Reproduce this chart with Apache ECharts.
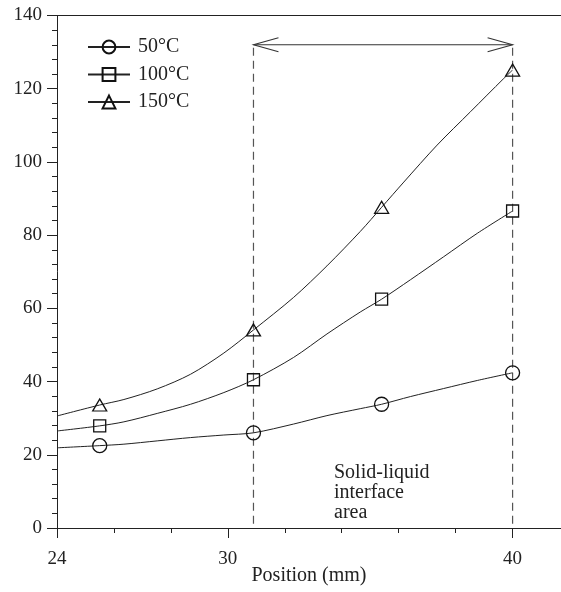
<!DOCTYPE html>
<html>
<head>
<meta charset="utf-8">
<script src="https://cdn.jsdelivr.net/npm/echarts@6/dist/echarts.min.js"></script>
<style>
html, body { margin: 0; padding: 0; background: #fff; }
#chart { width: 561px; height: 592px; }
</style>
</head>
<body>
<div id="chart"></div>
<script>
// marker positions (mm) and readings
const positions = [25.5, 30.9, 35.4, 40];
const temp50 = [22.5, 26.0, 33.8, 42.4];
const temp100 = [27.9, 40.5, 62.5, 86.6];
const temp150 = [33.6, 54.1, 87.6, 125.1];
// fitted curves, [position, value]
const trace50 = [[24, 21.9], [26.35, 22.9], [27.52, 23.8], [28.69, 24.7], [29.86, 25.4],
    [32.31, 28.4], [33.48, 30.7], [34.65, 32.6], [36.41, 35.9], [37.58, 38.1], [38.76, 40.3]];
const trace100 = [[24, 26.5], [26.35, 29.0], [27.52, 31.3], [28.69, 33.8], [29.86, 37.0],
    [32.31, 46.6], [33.48, 53.0], [34.65, 59.0], [36.41, 67.8], [37.58, 74.1], [38.76, 80.5]];
const trace150 = [[24, 30.6], [26.35, 35.1], [27.52, 38.0], [28.69, 42.0], [29.86, 47.8],
    [32.31, 63.0], [33.48, 71.6], [34.65, 81.0], [36.18, 94.5], [37.35, 104.6], [38.52, 113.7], [39.69, 122.8]];
const seriesNames = ['50°C', '100°C', '150°C'];
const xTickLabels = [24, 30, 40];
const interfaceArea = [30.9, 40];
const arrowLevel = 132;

const FONT = '"Liberation Serif", "DejaVu Serif", serif';
const INK = '#222';

function curve(name, trace, values, symbol, size) {
    const pts = trace.map(p => ({ value: p, symbol: 'none' }))
        .concat(positions.map((x, i) => ({ value: [x, values[i]] })))
        .sort((a, b) => a.value[0] - b.value[0]);
    return {
        name: name,
        type: 'line',
        smooth: 0.3,
        symbol: symbol,
        symbolSize: size,
        lineStyle: { width: 1, color: INK },
        itemStyle: { color: 'rgba(0,0,0,0)', borderColor: '#111', borderWidth: 1.3 },
        data: pts,
        z: 3
    };
}

const chart = echarts.init(document.getElementById('chart'));
const lineStyle = { color: INK, width: 1 };

const option = {
    animation: false,
    backgroundColor: '#fff',
    grid: { left: 57, right: 0, top: 15.5, bottom: 64, containLabel: false, outerBoundsMode: 'none' },
    legend: {
        orient: 'vertical',
        left: 87,
        top: 37,
        padding: 0,
        itemWidth: 42,
        itemHeight: 16,
        itemGap: 7.5,
        textStyle: { fontFamily: FONT, fontSize: 20, color: INK, padding: [0, 0, 0, 3] },
        data: seriesNames
    },
    xAxis: [
        {
            type: 'value',
            position: 'bottom',
            min: 24,
            max: 41.7,
            interval: 2,
            axisLine: { lineStyle: lineStyle },
            axisTick: { length: 5, lineStyle: lineStyle },
            axisLabel: {
                margin: 22,
                fontFamily: FONT,
                fontSize: 19,
                color: INK,
                formatter: v => (xTickLabels.includes(v) ? String(v) : '')
            },
            splitLine: { show: false },
            name: 'Position (mm)',
            nameLocation: 'middle',
            nameGap: 38,
            nameMoveOverlap: false,
            nameTextStyle: { fontFamily: FONT, fontSize: 20, color: INK }
        },
        {
            type: 'value',
            position: 'bottom',
            min: 24,
            max: 41.7,
            axisLine: { show: false },
            axisTick: { show: true, length: 10, customValues: xTickLabels, lineStyle: lineStyle },
            axisLabel: { show: false },
            splitLine: { show: false }
        },
        {
            type: 'value',
            position: 'top',
            min: 24,
            max: 41.7,
            axisLine: { show: true, lineStyle: lineStyle },
            axisTick: { show: false },
            axisLabel: { show: false },
            splitLine: { show: false }
        }
    ],
    yAxis: {
        type: 'value',
        min: 0,
        max: 140,
        interval: 20,
        axisLine: { show: true, lineStyle: lineStyle },
        axisTick: { show: true, length: 10, lineStyle: lineStyle },
        minorTick: { show: true, splitNumber: 5, length: 5, lineStyle: lineStyle },
        axisLabel: { margin: 15, fontFamily: FONT, fontSize: 19, color: INK },
        splitLine: { show: false },
        minorSplitLine: { show: false }
    },
    graphic: [
        {
            type: 'text',
            left: 334,
            top: 463,
            style: {
                text: 'Solid-liquid\ninterface\narea',
                fontFamily: FONT,
                fontSize: 20,
                lineHeight: 20,
                fill: INK
            }
        }
    ],
    series: [
        curve(seriesNames[0], trace50, temp50, 'circle', 14),
        curve(seriesNames[1], trace100, temp100, 'rect', 12),
        curve(seriesNames[2], trace150, temp150, 'triangle', [14, 12]),
        {
            // interface area: dashed bounds and double-headed arrow
            type: 'custom',
            silent: true,
            clip: false,
            encode: { x: [0, 1], y: 2 },
            data: [[interfaceArea[0], interfaceArea[1], arrowLevel]],
            renderItem: function (params, api) {
                const x0 = api.value(0), x1 = api.value(1), lv = api.value(2);
                const a = api.coord([x0, lv]), b = api.coord([x1, lv]);
                const a0 = api.coord([x0, 0]), b0 = api.coord([x1, 0]);
                const dash = { stroke: '#555', lineWidth: 1.2, lineDash: [8, 5], fill: null };
                const solid = { stroke: '#333', lineWidth: 1.1, fill: null };
                const hl = 25, hw = 7;
                return {
                    type: 'group',
                    children: [
                        { type: 'line', shape: { x1: a[0], y1: a[1] + 3, x2: a0[0], y2: a0[1] }, style: dash },
                        { type: 'line', shape: { x1: b[0], y1: b[1] + 3, x2: b0[0], y2: b0[1] }, style: dash },
                        { type: 'line', shape: { x1: a[0], y1: a[1], x2: b[0], y2: b[1] }, style: solid },
                        { type: 'polyline', shape: { points: [[a[0] + hl, a[1] - hw], [a[0], a[1]], [a[0] + hl, a[1] + hw]] }, style: solid },
                        { type: 'polyline', shape: { points: [[b[0] - hl, b[1] - hw], [b[0], b[1]], [b[0] - hl, b[1] + hw]] }, style: solid }
                    ]
                };
            },
            z: 2
        }
    ]
};

chart.setOption(option);
</script>
</body>
</html>
